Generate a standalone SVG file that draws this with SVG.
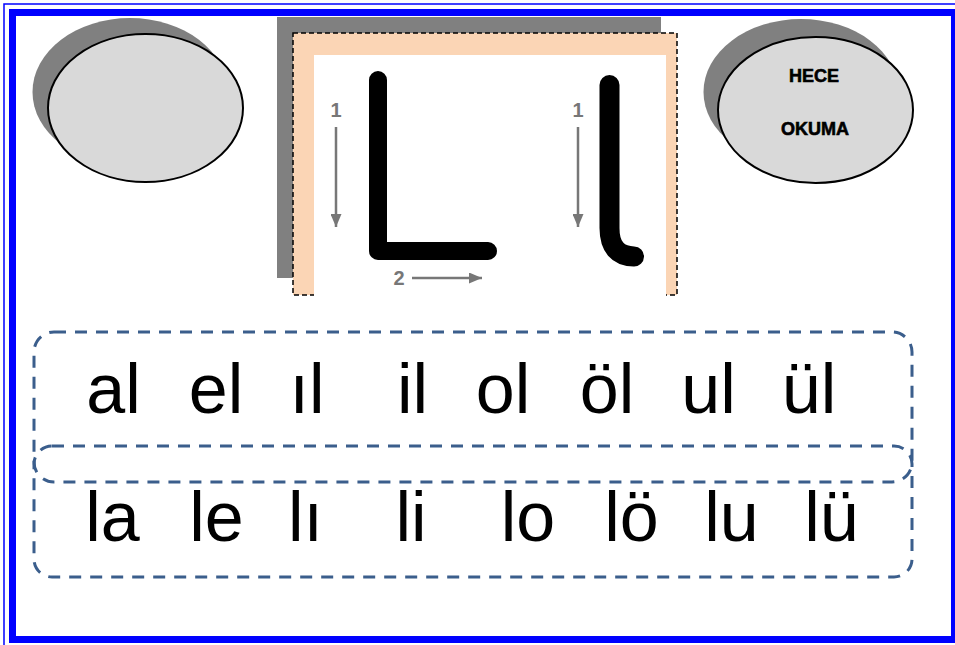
<svg xmlns="http://www.w3.org/2000/svg" width="955" height="645" viewBox="0 0 955 645">
  <defs>
    <style>
      .shadow { fill: #808080; }
      .oval { fill: #d9d9d9; stroke: #000; stroke-width: 2; }
      .hdr { font-family: "Liberation Sans", Arial, sans-serif; font-weight: bold; font-size: 18px; fill: #000; stroke: #000; stroke-width: 0.6; text-anchor: middle; }
      .dash { fill: none; stroke: #3b5e8c; stroke-width: 3; stroke-dasharray: 12 9; }
      .syl { font-family: "Liberation Sans", Arial, sans-serif; font-size: 70px; fill: #000; text-anchor: middle; }
      .num { font-family: "Liberation Sans", Arial, sans-serif; font-weight: bold; font-size: 20px; fill: #777; text-anchor: middle; }
      .guide { stroke: #777; stroke-width: 2.5; fill: none; }
      .stroke { fill: none; stroke: #000; stroke-linecap: round; stroke-linejoin: round; }
    </style>
    <marker id="ah" markerWidth="14" markerHeight="11" refX="13" refY="5.5" orient="auto" markerUnits="userSpaceOnUse">
      <path d="M0,0 L13,5.5 L0,11 Z" fill="#777"/>
    </marker>
  </defs>

  <rect width="955" height="645" fill="#fff"/>

  <!-- frame -->
  <g id="frame">
    <rect x="4" y="4" width="960" height="650" fill="none" stroke="#0000ff" stroke-width="1.5"/>
    <rect x="12.5" y="12.5" width="942" height="627" fill="none" stroke="#0000ff" stroke-width="7"/>
  </g>

  <!-- left oval -->
  <g id="oval-left">
    <ellipse class="shadow" cx="130" cy="92" rx="97.5" ry="74"/>
    <ellipse class="oval" cx="145.5" cy="108" rx="97.5" ry="74"/>
  </g>

  <!-- right oval -->
  <g id="oval-right">
    <ellipse class="shadow" cx="801" cy="92" rx="97.5" ry="73"/>
    <ellipse class="oval" cx="815.5" cy="110" rx="97.5" ry="73"/>
    <text class="hdr" x="814" y="82">HECE</text>
    <text class="hdr" x="815" y="134.5">OKUMA</text>
  </g>

  <!-- letter picture -->
  <g id="letter-card">
    <rect x="277" y="17" width="384" height="261" fill="#808080"/>
    <rect x="293" y="33" width="384" height="262" fill="#fbd5b5" stroke="#000" stroke-width="1.5" stroke-dasharray="5 3"/>
    <rect x="314" y="55" width="352" height="243" fill="#fff"/>
    <path class="stroke" d="M378,80 V251 H488" stroke-width="18"/>
    <path class="stroke" d="M609.5,85 V228 Q609.5,256 634,256.5" stroke-width="20"/>
    <text class="num" x="336" y="117">1</text>
    <text class="num" x="578" y="117">1</text>
    <text class="num" x="399" y="285">2</text>
  </g>

  <g id="connectors">
    <line class="guide" x1="336" y1="127" x2="336" y2="227" marker-end="url(#ah)"/>
    <line class="guide" x1="578" y1="127" x2="578" y2="227" marker-end="url(#ah)"/>
    <line class="guide" x1="412" y1="278" x2="482" y2="278" marker-end="url(#ah)"/>
  </g>

  <!-- syllable rows -->
  <g id="row-top">
    <rect class="dash" x="34" y="332" width="878" height="150" rx="20" ry="20"/>
    <text class="syl" x="113.5" y="413">al</text>
    <text class="syl" x="216" y="413">el</text>
    <text class="syl" x="307" y="413">ıl</text>
    <text class="syl" x="412.5" y="413">il</text>
    <text class="syl" x="503" y="413">ol</text>
    <text class="syl" x="607" y="413">öl</text>
    <text class="syl" x="708.5" y="413">ul</text>
    <text class="syl" x="809" y="413">ül</text>
  </g>

  <g id="row-bottom">
    <rect class="dash" x="34" y="446" width="878" height="131" rx="18" ry="18"/>
    <text class="syl" x="112.5" y="541">la</text>
    <text class="syl" x="216.5" y="541">le</text>
    <text class="syl" x="305.5" y="541">lı</text>
    <text class="syl" x="411" y="541">li</text>
    <text class="syl" x="528" y="541">lo</text>
    <text class="syl" x="631.5" y="541">lö</text>
    <text class="syl" x="731.5" y="541">lu</text>
    <text class="syl" x="831.5" y="541">lü</text>
  </g>
</svg>
